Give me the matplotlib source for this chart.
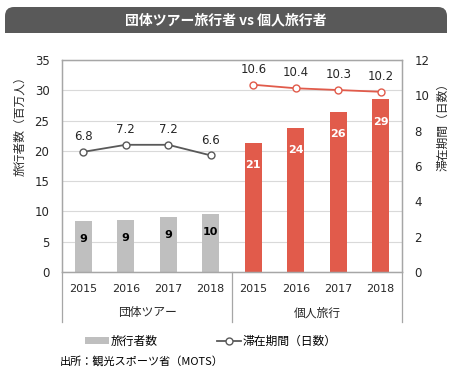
import numpy as np
import matplotlib
matplotlib.use('Agg')
import matplotlib.pyplot as plt
from matplotlib.patches import FancyBboxPatch, Rectangle
from matplotlib.lines import Line2D
from matplotlib.transforms import IdentityTransform, blended_transform_factory

plt.rcParams['font.family'] = ['DejaVu Sans', 'Noto Sans CJK JP']

# data
years = ['2015', '2016', '2017', '2018']
groups = ['団体ツアー', '個人旅行']
group_travellers = [8.4, 8.6, 9.1, 9.6]      # million
indiv_travellers = [21.3, 23.8, 26.4, 28.5]
group_bar_labels = ['9', '9', '9', '10']
indiv_bar_labels = ['21', '24', '26', '29']
group_stay = [6.8, 7.2, 7.2, 6.6]            # days
indiv_stay = [10.6, 10.4, 10.3, 10.2]

GRAY_BAR = '#BFBFBF'
RED = '#E15B4B'
DARK = '#595959'
FRAME = '#A6A6A6'
TXT = '#262626'

W, H = 464, 374
fig = plt.figure(figsize=(W / 100, H / 100), dpi=100)

# title bar with rounded top corners (pixel coords)
fig.patches.append(FancyBboxPatch((5, H - 33), 442, 26, boxstyle='round,pad=0,rounding_size=9',
                                  transform=IdentityTransform(), fc=DARK, ec='none', figure=fig))
fig.patches.append(Rectangle((5, H - 33), 442, 13, transform=IdentityTransform(),
                             fc=DARK, ec='none', figure=fig))
fig.text(226 / W, 1 - 20 / H, '団体ツアー旅行者 vs 個人旅行者', color='white', fontsize=10,
         fontweight='bold', ha='center', va='center', family=['Noto Sans CJK JP', 'DejaVu Sans'])

ax = fig.add_axes([62 / W, 1 - 272 / H, 340 / W, 212 / H])
ax2 = ax.twinx()

x1 = np.arange(4)
x2 = np.arange(4) + 4
b1 = ax.bar(x1, group_travellers, width=0.4, color=GRAY_BAR, zorder=2)
b2 = ax.bar(x2, indiv_travellers, width=0.4, color=RED, zorder=2)

for rect, lab in zip(b1, group_bar_labels):
    ax.annotate(lab, (rect.get_x() + rect.get_width() / 2, rect.get_height()), xytext=(0, -13),
                textcoords='offset points', ha='center', va='center', fontsize=8,
                fontweight='bold', color='black')
for rect, lab in zip(b2, indiv_bar_labels):
    ax.annotate(lab, (rect.get_x() + rect.get_width() / 2, rect.get_height()), xytext=(0, -16),
                textcoords='offset points', ha='center', va='center', fontsize=8,
                fontweight='bold', color='white')

ax2.plot(x1, group_stay, color=DARK, lw=1.3, marker='o', ms=5, mfc='white', mec=DARK, mew=1, zorder=3)
ax2.plot(x2, indiv_stay, color=RED, lw=1.3, marker='o', ms=5, mfc='white', mec=RED, mew=1, zorder=3)
for xs, vals in [(x1, group_stay), (x2, indiv_stay)]:
    for xx, v in zip(xs, vals):
        ax2.annotate(f'{v:.1f}', (xx, v), xytext=(0, 11), textcoords='offset points',
                     ha='center', va='center', fontsize=8.5, color=TXT)

ax.set_xlim(-0.5, 7.5)
ax.set_ylim(0, 35)
ax.set_yticks(range(0, 36, 5))
ax2.set_ylim(0, 12)
ax2.set_yticks(range(0, 13, 2))
ax.set_xticks(np.arange(8))
ax.set_xticklabels(years * 2)
ax.tick_params(axis='x', length=0, pad=9, labelsize=8, labelcolor=TXT)
ax.tick_params(axis='y', length=0, pad=9, labelsize=8.5, labelcolor=TXT)
ax2.tick_params(axis='y', length=0, pad=9, labelsize=8.5, labelcolor=TXT)

ax.grid(axis='y', color='#D9D9D9', lw=0.8, zorder=0)
ax.set_axisbelow(True)
for a in (ax, ax2):
    for s in a.spines.values():
        s.set_color(FRAME)
        s.set_linewidth(0.9)

# group dividers and group names below the axis
trans = blended_transform_factory(ax.transData, ax.transAxes)
for xv in [-0.5, 3.5, 7.5]:
    ax.plot([xv, xv], [0, -0.236], transform=trans, color=FRAME, lw=0.9, clip_on=False)
for i, g in enumerate(groups):
    ax.text(1.5 + 4 * i, -0.193, g, transform=trans, ha='center', va='center', fontsize=8.5,
            color=TXT, family=['Noto Sans CJK JP', 'DejaVu Sans'])

fig.text(20 / W, 1 - 123 / H, '旅行者数（百万人）', rotation=90, ha='center', va='center',
         fontsize=8.5, color=TXT, family=['Noto Sans CJK JP', 'DejaVu Sans'])
fig.text(443 / W, 1 - 124 / H, '滞在期間（日数）', rotation=90, ha='center', va='center',
         fontsize=8.5, color=TXT, family=['Noto Sans CJK JP', 'DejaVu Sans'])

handles = [Rectangle((0, 0), 1, 1, fc=GRAY_BAR, ec='none'),
           Line2D([], [], color=DARK, lw=1.3, marker='o', ms=5, mfc='white', mec=DARK, mew=1)]
fig.legend(handles, ['旅行者数', '滞在期間（日数）'], loc='center', bbox_to_anchor=(211 / W, 1 - 341 / H),
           ncol=2, frameon=False, handlelength=2.0, handleheight=0.5, handletextpad=0.2,
           columnspacing=5, prop={'family': ['Noto Sans CJK JP', 'DejaVu Sans'], 'size': 8.5})

fig.text(60 / W, 1 - 361 / H, '出所：観光スポーツ省（MOTS）', ha='left', va='center', fontsize=8,
         color='black', family=['Noto Sans CJK JP', 'DejaVu Sans'])

fig.savefig('out.png', dpi=100)
